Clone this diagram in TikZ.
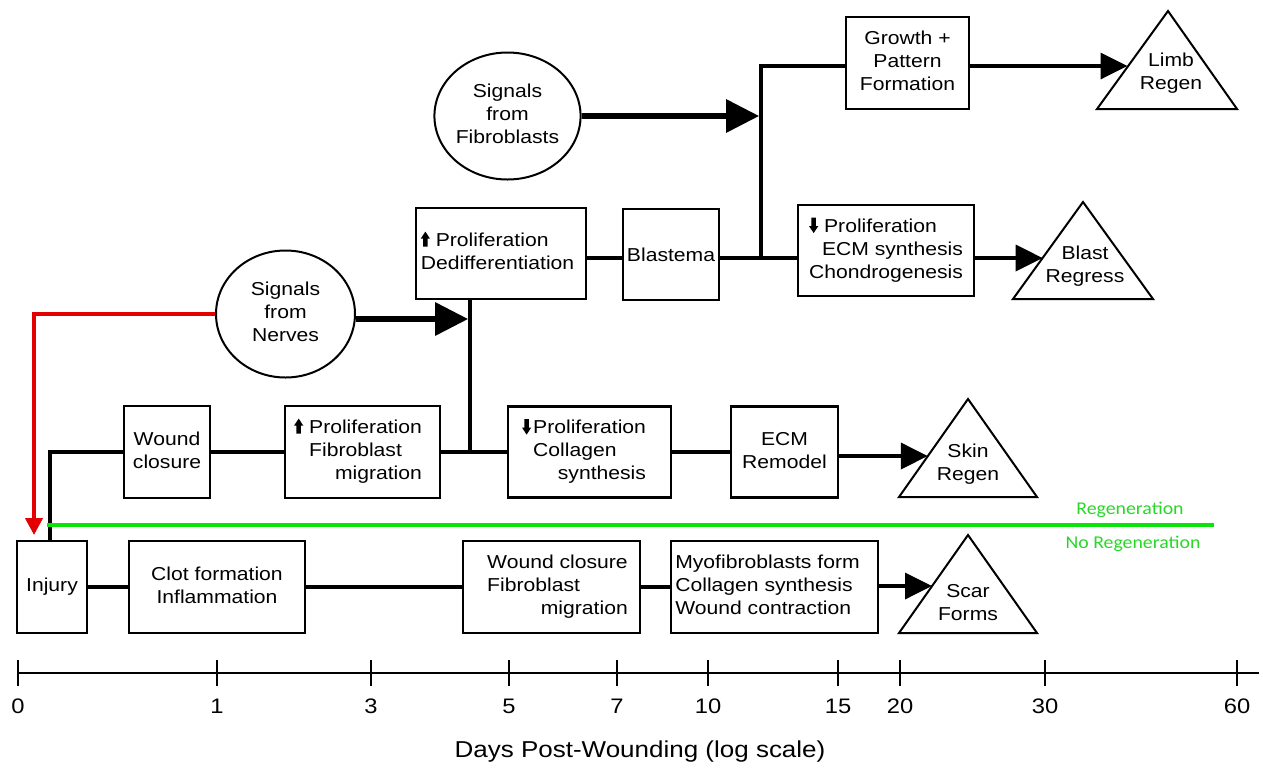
\documentclass[tikz,border=0pt]{standalone}
\usepackage{fontspec}
\setmainfont{Liberation Sans}[FakeStretch=1.13]
\newfontfamily\greenfont{Carlito}[FakeStretch=1.1]
\usetikzlibrary{arrows.meta,shapes.geometric}
\definecolor{regred}{RGB}{226,0,0}
\definecolor{reggreen}{RGB}{10,228,10}
\definecolor{regtext}{RGB}{40,215,40}
\newcommand{\bxfont}{\fontsize{18.7pt}{23pt}\selectfont}
\newcommand{\uparw}{\tikz[baseline=0pt]\fill[draw=none,black] (-2.2pt,0pt) -- (2.2pt,0pt) -- (2.2pt,8pt) -- (4.6pt,8pt) -- (0pt,15pt) -- (-4.6pt,8pt) -- (-2.2pt,8pt) -- cycle;}
\newcommand{\dnarw}{\tikz[baseline=0pt]\fill[draw=none,black] (-2.2pt,14.5pt) -- (2.2pt,14.5pt) -- (2.2pt,6pt) -- (4.6pt,6pt) -- (0pt,-1pt) -- (-4.6pt,6pt) -- (-2.2pt,6pt) -- cycle;}
\newcommand{\lefttab}[1]{\begin{tabular}{@{}l@{}}#1\end{tabular}}
\newcommand{\centtab}[1]{\begin{tabular}{@{}c@{}}#1\end{tabular}}
\newcommand{\rcell}[1]{\multicolumn{1}{@{}r@{}}{#1}}
\tikzset{
  box/.style={draw, rectangle, line width=2.2pt, inner sep=0pt, font=\bxfont},
  sig/.style={draw, ellipse, line width=2pt, inner sep=0pt, font=\bxfont},
  lbl/.style={inner sep=0pt, font=\bxfont},
  tri/.style={draw, line width=2pt, line join=miter},
  conn/.style={draw, line width=3.6pt},
  arr/.style={draw, line width=3.6pt, -{Triangle[length=27pt,width=26pt]}},
  bigarr/.style={draw, line width=6pt, -{Triangle[length=33pt,width=32pt]}, shorten >=1.8pt},
  redarr/.style={draw=regred, line width=4pt, -{Triangle[length=17pt,width=17pt]}},
  greenline/.style={draw=reggreen, line width=4pt},
  gtext/.style={inner sep=0pt, text=regtext, font=\greenfont\fontsize{18pt}{20pt}\selectfont},
  axisline/.style={draw, line width=2.5pt},
  tick/.style={draw, line width=2pt},
  num/.style={inner sep=0pt, font=\fontsize{21pt}{24pt}\selectfont},
}
\begin{document}
\begin{tikzpicture}[x=1pt,y=-1pt]
\useasboundingbox (0,0) rectangle (1263,772);
% ---- boxes, bottom row
\node[box, minimum width=70pt, minimum height=92pt] (injury) at (52,587) {Injury};
\node[box, minimum width=176pt, minimum height=92pt] (clot) at (217,587) {\centtab{Clot formation\\Inflammation}};
\node[box, minimum width=177pt, minimum height=92pt] (wound2) at (551.5,587) {\hspace*{12pt}\lefttab{Wound closure\\Fibroblast\\\rcell{migration}}};
\node[box, minimum width=207pt, minimum height=92pt] (myo) at (774.5,587) {\lefttab{Myofibroblasts form\\Collagen synthesis\\Wound contraction}\hspace*{14pt}};
% ---- skin row
\node[box, minimum width=86pt, minimum height=92pt] (woundA) at (167,452) {\centtab{Wound\\closure}};
\node[box, minimum width=155pt, minimum height=92pt] (prolfib) at (362.5,452) {\lefttab{\uparw\ Proliferation\\\hphantom{\uparw\ }Fibroblast\\\rcell{migration}}\hspace*{9pt}};
\node[box, minimum width=163pt, minimum height=91pt] (collagen) at (589.5,452) {\lefttab{\dnarw\hspace{2pt}Proliferation\\\hphantom{\dnarw\hspace{2pt}}Collagen\\\rcell{synthesis}}\hspace*{11pt}};
\node[box, minimum width=107pt, minimum height=91pt] (ecm) at (784.5,452) {\centtab{ECM\\Remodel}};
% ---- blastema row
\node[box, minimum width=170pt, minimum height=91pt] (prolded) at (501,253.5) {\lefttab{\uparw\ Proliferation\\Dedifferentiation}\hspace*{7pt}};
\node[box, minimum width=96pt, minimum height=91pt] (blastema) at (671,254.5) {Blastema};
\node[box, minimum width=176pt, minimum height=91pt] (chondro) at (886,250.5) {\begin{tabular}{@{}r@{}}\multicolumn{1}{@{}l@{}}{\dnarw\ Proliferation}\\ECM synthesis\\Chondrogenesis\end{tabular}};
\node[box, minimum width=123pt, minimum height=92pt] (growth) at (907.5,63) {\centtab{Growth +\\Pattern\\Formation}};
% ---- signal ellipses
\node[sig, minimum width=139pt, minimum height=127pt] (nerves) at (285.5,314) {\centtab{Signals\\from\\Nerves}};
\node[sig, minimum width=139pt, minimum height=127pt] (fibro) at (507.5,116) {\centtab{Signals\\from\\Fibroblasts}};
% ---- outcome triangles
\draw[tri] (1168,11) -- (1237,109) -- (1097,109) -- cycle;
\node[lbl] (limb) at (1171,73.5) {\centtab{Limb\\Regen}};
\draw[tri] (1083,202) -- (1153,299) -- (1013,299) -- cycle;
\node[lbl] (blast) at (1085,266) {\centtab{Blast\\Regress}};
\draw[tri] (968,399) -- (1037,497) -- (899,497) -- cycle;
\node[lbl] (skin) at (968,464) {\centtab{Skin\\Regen}};
\draw[tri] (968,535) -- (1037,633) -- (899,633) -- cycle;
\node[lbl] (scar) at (968,604.5) {\centtab{Scar\\Forms}};
\coordinate (limbL) at (1127.5,66);
\coordinate (blastL) at (1042.6,258);
\coordinate (skinL) at (927.8,456);
\coordinate (scarL) at (932,586);
% ---- junctions
\coordinate (j1) at (470,452);
\coordinate (j2) at (761,258);
\coordinate (nv) at ([yshift=-5pt]nerves.east);
\coordinate (redtip) at (34,535);
% ---- connectors
\draw[conn] ([xshift=-2pt]injury.north) |- (woundA.west);
\draw[conn] (woundA.east) -- (prolfib.west);
\draw[conn] (prolfib.east) -- (collagen.west);
\draw[conn] (j1) -- (j1 |- prolded.south);
\draw[conn] (collagen.east) -- (ecm.west);
\draw[arr] (ecm.east |- skinL) -- (skinL);
\draw[conn] (injury.east) -- (clot.west);
\draw[conn] (clot.east) -- (wound2.west);
\draw[conn] (wound2.east) -- (myo.west);
\draw[arr] (myo.east |- scarL) -- (scarL);
\draw[conn] (prolded.east |- j2) -- (blastema.west |- j2);
\draw[conn] (blastema.east |- j2) -- (chondro.west |- j2);
\draw[conn] (j2) |- (growth.west |- limbL);
\draw[arr] (growth.east |- limbL) -- (limbL);
\draw[arr] (chondro.east |- blastL) -- (blastL);
\draw[bigarr] (nv) -- (nv -| j1);
\draw[bigarr] (fibro.east) -- (fibro.east -| j2);
\draw[redarr] (nerves.west) -| (redtip);
% ---- regeneration divider
\coordinate (gL) at (47,525);
\coordinate (gR) at (1214,525);
\draw[greenline] (gL) -- (gR);
\node[gtext] (regen) at (1130,510) {Regeneration};
\node[gtext] (noregen) at (1133,544) {No Regeneration};
% ---- time axis
\coordinate (a0) at (18,673);
\coordinate (a1) at (1259,673);
\draw[axisline] (a0) -- (a1);
\foreach \x/\l in {18/0, 217/1, 371/3, 509/5, 617/7, 708/10, 838/15, 900/20, 1045/30, 1237/60} {
  \draw[tick] (\x,660) -- (\x,686);
  \node[num] (lab\l) at (\x,706) {\l};
}
\node[inner sep=0pt, font=\fontsize{23pt}{26pt}\selectfont] (title) at (640,752) {Days Post-Wounding (log scale)};
\end{tikzpicture}
\end{document}
